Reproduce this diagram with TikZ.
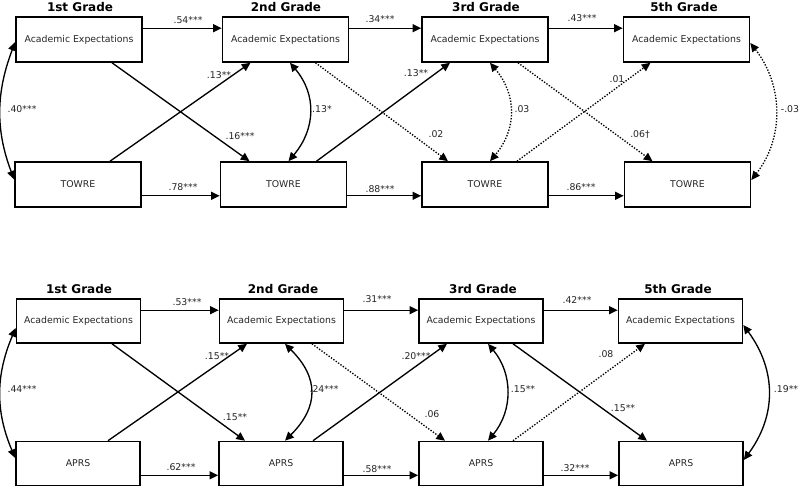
\documentclass[tikz,border=0pt]{standalone}
\usepackage{fontspec}
\setmainfont{DejaVu Sans}
\usetikzlibrary{arrows.meta,calc}
\begin{document}
\begin{tikzpicture}[x=0.75pt,y=-0.75pt,
 boxT/.style={draw, line width=1.2pt, minimum width=94.5pt, minimum height=33.75pt, inner sep=0pt, font=\fontsize{7}{8}\selectfont, text=black!85},
 boxB/.style={boxT, minimum width=93pt, minimum height=33pt},
 ttl/.style={font=\fontsize{9}{10}\selectfont\bfseries, inner sep=0pt},
 lab/.style={font=\fontsize{7}{8}\selectfont, text=black!85, inner sep=0pt},
 arr/.style={line width=1pt, -{Triangle[length=6.5pt,width=6pt]}},
 dotline/.style={dash pattern=on 1pt off 1.2pt},
 cov/.style={line width=1pt, {Triangle[length=6.5pt,width=6pt]}-{Triangle[length=6.5pt,width=6pt]}},
]
\useasboundingbox[fill=white] (0,0) rectangle (800,488);

% ---------------- top panel ----------------
\node[ttl] (g1) at (80,7) {1st Grade};
\node[ttl] (g2) at (286,7) {2nd Grade};
\node[ttl] (g3) at (486,7) {3rd Grade};
\node[ttl] (g5) at (684,7) {5th Grade};

\node[boxT] (a1) at (79,39.5) {Academic Expectations};
\node[boxT] (a2) at (285.5,39.5) {Academic Expectations};
\node[boxT] (a3) at (485,39.5) {Academic Expectations};
\node[boxT] (a5) at (686.5,39.5) {Academic Expectations};
\node[boxT] (t1) at (78,184.5) {TOWRE};
\node[boxT] (t2) at (283.5,184.5) {TOWRE};
\node[boxT] (t3) at (485,184.5) {TOWRE};
\node[boxT] (t5) at (687.5,184.5) {TOWRE};

\draw[arr] ($(a1.north east)+(0,12)$) -- ($(a2.north west)+(0,12)$);
\draw[arr] ($(a2.north east)+(0,12)$) -- ($(a3.north west)+(0,12)$);
\draw[arr] ($(a3.north east)+(0,12)$) -- ($(a5.north west)+(0,12)$);
\draw[arr] ($(t1.south east)+(0,-12)$) -- ($(t2.south west)+(0,-12)$);
\draw[arr] ($(t2.south east)+(0,-12)$) -- ($(t3.south west)+(0,-12)$);
\draw[arr] ($(t3.south east)+(0,-12)$) -- ($(t5.south west)+(0,-12)$);

\draw[arr] ($(a1.south)+(33,0)$) -- ($(t2.north)+(-34,0)$);
\draw[arr] ($(t1.north)+(32,0)$) -- ($(a2.south)+(-35,0)$);
\draw[arr,dotline] ($(a2.south)+(30,0)$) -- ($(t3.north)+(-37,0)$);
\draw[arr] ($(t2.north)+(33,0)$) -- ($(a3.south)+(-35,0)$);
\draw[arr,dotline] ($(a3.south)+(33,0)$) -- ($(t5.north)+(-35,0)$);
\draw[arr,dotline] ($(t3.north)+(32,0)$) -- ($(a5.south)+(-36,0)$);

\draw[cov] ($(a1.west)+(0,2.5)$) .. controls +(-19,50) and +(-19,-50) .. ($(t1.west)+(0,-5)$);
\draw[cov] ($(a2.south)+(4.5,0)$) .. controls +(27,32) and +(27,-32) .. ($(t2.north)+(5,0)$);
\draw[cov,dotline] ($(a3.south)+(5,0)$) .. controls +(27,32) and +(27,-32) .. ($(t3.north)+(5,0)$);
\draw[cov,dotline] ($(a5.east)+(0,3.5)$) .. controls +(33,42) and +(33,-42) .. ($(t5.east)+(0,-4.5)$);

\node[lab] (l1) at (188,20) {.54***};
\node[lab] (l2) at (183,187) {.78***};
\node[lab] (l3) at (219,75) {.13**};
\node[lab] (l4) at (240,136) {.16***};
\node[lab] (l5) at (22,109) {.40***};
\node[lab] (l6) at (322,109) {.13*};
\node[lab] (l7) at (380,19) {.34***};
\node[lab] (l8) at (380,189) {.88***};
\node[lab] (l9) at (416,73) {.13**};
\node[lab] (l10) at (436,134) {.02};
\node[lab] (l11) at (522,109) {.03};
\node[lab] (l12) at (582,18) {.43***};
\node[lab] (l13) at (581,187) {.86***};
\node[lab] (l14) at (617,79) {.01};
\node[lab] (l15) at (640,134) {.06†};
\node[lab] (l16) at (790,109) {-.03};

% ---------------- bottom panel ----------------
\node[ttl] (h1) at (79,289) {1st Grade};
\node[ttl] (h2) at (283,289) {2nd Grade};
\node[ttl] (h3) at (483,289) {3rd Grade};
\node[ttl] (h5) at (678,289) {5th Grade};

\node[boxB] (c1) at (78.5,321) {Academic Expectations};
\node[boxB] (c2) at (281.5,321) {Academic Expectations};
\node[boxB] (c3) at (481,321) {Academic Expectations};
\node[boxB] (c5) at (680.5,321) {Academic Expectations};
\node[boxB] (p1) at (78,463.5) {APRS};
\node[boxB] (p2) at (281,463.5) {APRS};
\node[boxB] (p3) at (481,463.5) {APRS};
\node[boxB] (p5) at (681,463.5) {APRS};

\draw[arr] ($(c1.north east)+(0,12)$) -- ($(c2.north west)+(0,12)$);
\draw[arr] ($(c2.north east)+(0,12)$) -- ($(c3.north west)+(0,12)$);
\draw[arr] ($(c3.north east)+(0,12)$) -- ($(c5.north west)+(0,12)$);
\draw[arr] ($(p1.south east)+(0,-11)$) -- ($(p2.south west)+(0,-11)$);
\draw[arr] ($(p2.south east)+(0,-11)$) -- ($(p3.south west)+(0,-11)$);
\draw[arr] ($(p3.south east)+(0,-11)$) -- ($(p5.south west)+(0,-11)$);

\draw[arr] ($(c1.south)+(33.5,0)$) -- ($(p2.north)+(-36,0)$);
\draw[arr] ($(p1.north)+(30,0)$) -- ($(c2.south)+(-34.5,0)$);
\draw[arr,dotline] ($(c2.south)+(30.5,0)$) -- ($(p3.north)+(-36,0)$);
\draw[arr] ($(p2.north)+(32,0)$) -- ($(c3.south)+(-34,0)$);
\draw[arr] ($(c3.south)+(32,0)$) -- ($(p5.north)+(-34,0)$);
\draw[arr,dotline] ($(p3.north)+(32,0)$) -- ($(c5.south)+(-35.5,0)$);

\draw[cov] ($(c1.west)+(0,7)$) .. controls +(-20,47) and +(-20,-47) .. ($(p1.west)+(0,-5.5)$);
\draw[cov] ($(c2.south)+(3.5,0)$) .. controls +(34,34) and +(34,-34) .. ($(p2.north)+(4,0)$);
\draw[cov] ($(c3.south)+(7,0)$) .. controls +(25,30) and +(25,-30) .. ($(p3.north)+(7,0)$);
\draw[cov] ($(c5.east)+(0,4)$) .. controls +(33,45) and +(33,-45) .. ($(p5.east)+(0,-3.5)$);

\node[lab] (m1) at (187,302) {.53***};
\node[lab] (m2) at (181,467) {.62***};
\node[lab] (m3) at (217,356) {.15**};
\node[lab] (m4) at (235,417) {.15**};
\node[lab] (m5) at (22,389) {.44***};
\node[lab] (m6) at (324,389) {.24***};
\node[lab] (m7) at (377,299) {.31***};
\node[lab] (m8) at (377,469) {.58***};
\node[lab] (m9) at (416,356) {.20***};
\node[lab] (m10) at (432,414) {.06};
\node[lab] (m11) at (523,389) {.15**};
\node[lab] (m12) at (577,300) {.42***};
\node[lab] (m13) at (575,468) {.32***};
\node[lab] (m14) at (606,354) {.08};
\node[lab] (m15) at (623,408) {.15**};
\node[lab] (m16) at (786,389) {.19**};
\end{tikzpicture}
\end{document}
